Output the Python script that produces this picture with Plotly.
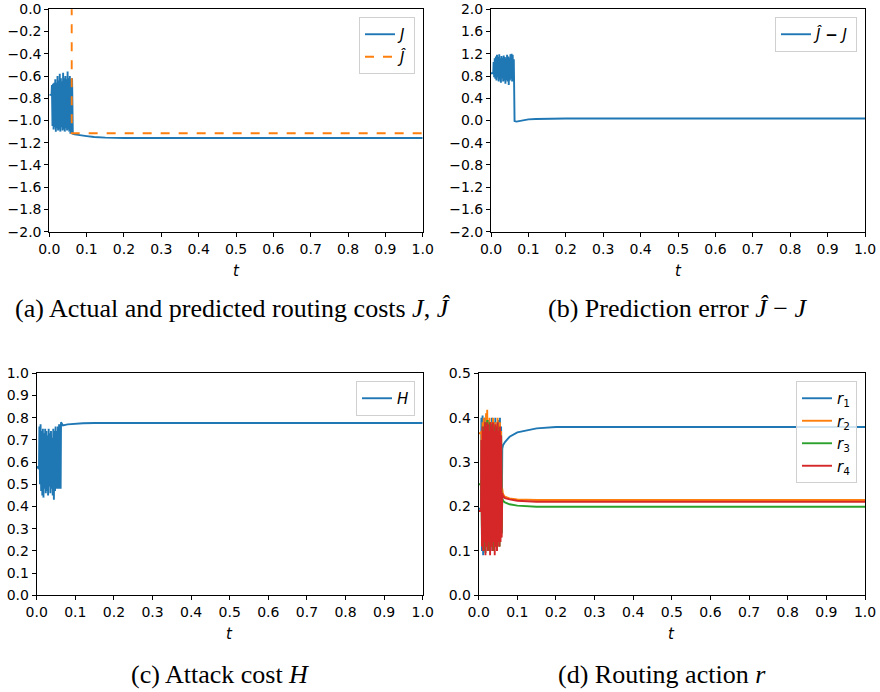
import plotly.graph_objects as go

# ---------------- data ----------------
osc_t = [0.007, 0.0085, 0.010, 0.0115, 0.013, 0.0145, 0.016, 0.0175, 0.019, 0.0205,
         0.022, 0.0235, 0.025, 0.0265, 0.028, 0.0295, 0.031, 0.0325, 0.034, 0.0355,
         0.037, 0.0385, 0.040, 0.0415, 0.043, 0.0445, 0.046, 0.0475, 0.049, 0.0505,
         0.052, 0.0535, 0.055, 0.0565, 0.058, 0.0595, 0.061]
pre_t = [0.0, 0.006]
post_t = [0.062, 0.063, 0.068, 0.08, 0.1, 0.12, 0.15, 0.2, 0.5, 1.0]

# (a) actual cost J
J_pre = [-0.77, -0.77]
J_osc = [-0.68, -1.05, -0.67, -1.08, -0.66, -1.06, -0.63, -1.10, -0.66, -1.07,
         -0.60, -1.09, -0.64, -1.08, -0.58, -1.10, -0.62, -1.06, -0.65, -1.09,
         -0.57, -1.08, -0.62, -1.10, -0.60, -1.07, -0.63, -1.09, -0.56, -1.08,
         -0.62, -1.10, -0.60, -1.12, -0.63, -1.12, -0.62]
J_post = [-1.12, -1.12, -1.125, -1.132, -1.14, -1.148, -1.154, -1.157, -1.157, -1.157]

# (a) predicted cost J-hat
Jhat_t = [0.0, 0.0600, 0.0601, 1.0]
Jhat = [0.15, 0.15, -1.115, -1.115]

# (b) prediction error J-hat - J
E_pre = [0.85, 0.85]
E_osc = [1.05, 0.78, 1.12, 0.75, 1.15, 0.72, 1.18, 0.78, 1.14, 0.70,
         1.19, 0.74, 1.12, 0.68, 1.16, 0.76, 1.13, 0.70, 1.17, 0.72,
         1.14, 0.66, 1.12, 0.73, 1.18, 0.70, 1.15, 0.64, 1.13, 0.72,
         1.19, 0.75, 1.20, 0.70, 1.18, 0.73, 1.10]
E_post = [0.75, -0.01, -0.02, 0.0, 0.02, 0.027, 0.032, 0.035, 0.035, 0.035]

# (c) attack cost H
H_pre = [0.58, 0.57]
H_osc = [0.76, 0.50, 0.77, 0.47, 0.74, 0.45, 0.75, 0.44, 0.73, 0.48,
         0.75, 0.46, 0.74, 0.47, 0.72, 0.45, 0.75, 0.49, 0.73, 0.46,
         0.74, 0.48, 0.71, 0.45, 0.75, 0.43, 0.74, 0.47, 0.76, 0.48,
         0.74, 0.48, 0.76, 0.48, 0.77, 0.48, 0.77]
H_post = [0.48, 0.78, 0.765, 0.77, 0.773, 0.775, 0.776, 0.776, 0.776, 0.776]

# (d) routing action r
r1_pre = [0.195, 0.195]
r1_osc = [0.40, 0.10, 0.405, 0.09, 0.39, 0.12, 0.40, 0.11, 0.38, 0.13,
          0.39, 0.10, 0.395, 0.12, 0.38, 0.11, 0.39, 0.12, 0.40, 0.10,
          0.385, 0.13, 0.39, 0.11, 0.40, 0.12, 0.38, 0.10, 0.39, 0.12,
          0.395, 0.11, 0.40, 0.13, 0.38, 0.14, 0.33]
r1_post = [0.333, 0.338, 0.345, 0.357, 0.367, 0.371, 0.376, 0.379, 0.379, 0.379]

r2_pre = [0.365, 0.365]
r2_osc = [0.37, 0.13, 0.39, 0.11, 0.40, 0.12, 0.38, 0.14, 0.41, 0.11,
          0.418, 0.12, 0.39, 0.13, 0.40, 0.10, 0.38, 0.12, 0.39, 0.11,
          0.40, 0.13, 0.38, 0.12, 0.39, 0.11, 0.385, 0.13, 0.40, 0.12,
          0.38, 0.11, 0.39, 0.14, 0.37, 0.15, 0.24]
r2_post = [0.232, 0.228, 0.222, 0.218, 0.216, 0.215, 0.2146, 0.2146, 0.2146, 0.2146]

r3_pre = [0.25, 0.25]
r3_osc = [0.26, 0.14, 0.35, 0.12, 0.38, 0.10, 0.37, 0.095, 0.39, 0.11,
          0.395, 0.13, 0.38, 0.10, 0.39, 0.12, 0.37, 0.11, 0.385, 0.13,
          0.36, 0.10, 0.38, 0.12, 0.37, 0.11, 0.36, 0.13, 0.38, 0.12,
          0.37, 0.11, 0.35, 0.13, 0.36, 0.14, 0.22]
r3_post = [0.216, 0.213, 0.209, 0.205, 0.202, 0.2005, 0.1996, 0.1996, 0.1996, 0.1996]

r4_pre = [0.19, 0.19]
r4_osc = [0.35, 0.11, 0.38, 0.10, 0.37, 0.12, 0.39, 0.09, 0.38, 0.11,
          0.39, 0.10, 0.385, 0.12, 0.37, 0.09, 0.39, 0.11, 0.38, 0.10,
          0.39, 0.12, 0.37, 0.09, 0.385, 0.11, 0.38, 0.10, 0.39, 0.12,
          0.37, 0.11, 0.38, 0.12, 0.36, 0.13, 0.23]
r4_post = [0.226, 0.223, 0.219, 0.216, 0.213, 0.2115, 0.2108, 0.2108, 0.2108, 0.2108]

x_ticks = [0.0, 0.1, 0.2, 0.3, 0.4, 0.5, 0.6, 0.7, 0.8, 0.9, 1.0]
y_ticks_a = [-2.0, -1.8, -1.6, -1.4, -1.2, -1.0, -0.8, -0.6, -0.4, -0.2, 0.0]
y_ticks_b = [-2.0, -1.6, -1.2, -0.8, -0.4, 0.0, 0.4, 0.8, 1.2, 1.6, 2.0]
y_ticks_c = [0.0, 0.1, 0.2, 0.3, 0.4, 0.5, 0.6, 0.7, 0.8, 0.9, 1.0]
y_ticks_d = [0.0, 0.1, 0.2, 0.3, 0.4, 0.5]
captions = ["(a) Actual and predicted routing costs <i>J</i>, <i>Ĵ</i>",
            "(b) Prediction error <i>Ĵ</i> − <i>J</i>",
            "(c) Attack cost <i>H</i>",
            "(d) Routing action <i>r</i>"]

# ---------------- figure ----------------
W, H_px = 880, 692
BLUE, ORANGE, GREEN, RED = "#1f77b4", "#ff7f0e", "#2ca02c", "#d62728"
LW = 1.9

tt = pre_t + osc_t + post_t

fig = go.Figure()

def line(x, y, color, name, xa, ya, legend, dash="solid"):
    fig.add_trace(go.Scatter(x=x, y=y, mode="lines", name=name,
                             line=dict(color=color, width=LW, dash=dash),
                             xaxis=xa, yaxis=ya, legend=legend))

line(tt, J_pre + J_osc + J_post, BLUE, "<i>J</i>", "x", "y", "legend")
line(Jhat_t, Jhat, ORANGE, "<i>Ĵ</i>", "x", "y", "legend", dash="dash")
line(tt, E_pre + E_osc + E_post, BLUE, "<i>Ĵ</i> <b>−</b> <i>J</i>", "x2", "y2", "legend2")
line(tt, H_pre + H_osc + H_post, BLUE, "<i>H</i>", "x3", "y3", "legend3")
line(tt, r1_pre + r1_osc + r1_post, BLUE, "<i>r</i><sub>1</sub>", "x4", "y4", "legend4")
line(tt, r2_pre + r2_osc + r2_post, ORANGE, "<i>r</i><sub>2</sub>", "x4", "y4", "legend4")
line(tt, r3_pre + r3_osc + r3_post, GREEN, "<i>r</i><sub>3</sub>", "x4", "y4", "legend4")
line(tt, r4_pre + r4_osc + r4_post, RED, "<i>r</i><sub>4</sub>", "x4", "y4", "legend4")

tickfont = dict(family="DejaVu Sans", size=14, color="black")

def fmt(v):
    s = "%.1f" % abs(v)
    return ("\u2212" + s) if v < 0 else s

def px_x(p):
    return p / W

def px_y(p):
    return 1 - p / H_px

def axis_common():
    return dict(showline=True, mirror=True, linecolor="black", linewidth=1,
                ticks="outside", ticklen=4, tickwidth=1, tickcolor="black",
                showgrid=False, zeroline=False, tickfont=tickfont, automargin=False)

panels = {
    # name: (left px, right px, top px, bottom px)
    "1": (49.3, 422.7, 9.3, 231.7),
    "2": (491.0, 865.0, 9.3, 231.7),
    "3": (36.7, 422.7, 373.3, 595.3),
    "4": (478.7, 865.0, 373.3, 595.3),
}
y_specs = {
    "1": ([-2.0, 0.0], y_ticks_a),
    "2": ([-2.0, 2.0], y_ticks_b),
    "3": ([0.0, 1.0], y_ticks_c),
    "4": ([0.0, 0.5], y_ticks_d),
}

layout = dict(width=W, height=H_px, autosize=False,
              margin=dict(l=0, r=0, t=0, b=0, pad=0, autoexpand=False),
              paper_bgcolor="white", plot_bgcolor="white", showlegend=True)
annotations = []
for k, (l, r, t, b) in panels.items():
    sfx = "" if k == "1" else k
    xa = axis_common()
    xa.update(domain=[px_x(l), px_x(r)], range=[0, 1], tickvals=x_ticks,
              ticktext=[fmt(v) for v in x_ticks], anchor="y" + sfx)
    ya = axis_common()
    rng, tv = y_specs[k]
    ya.update(domain=[px_y(b), px_y(t)], range=rng, tickvals=tv,
              ticktext=[fmt(v) for v in tv], anchor="x" + sfx)
    layout["xaxis" + sfx] = xa
    layout["yaxis" + sfx] = ya
    # x axis title "t"
    annotations.append(dict(text="<i>t</i>", xref="paper", yref="paper",
                            x=px_x((l + r) / 2), y=px_y(b + 39),
                            showarrow=False, xanchor="center", yanchor="middle",
                            font=dict(family="DejaVu Sans", size=15, color="black")))

cap_pos = [(233, 308), (677, 308), (220, 674), (662, 674)]
for txt, (cx, cy) in zip(captions, cap_pos):
    annotations.append(dict(text=txt, xref="paper", yref="paper",
                            x=px_x(cx), y=px_y(cy), showarrow=False,
                            xanchor="center", yanchor="middle",
                            font=dict(family="Liberation Serif", size=26, color="black")))
layout["annotations"] = annotations

leg_common = dict(bgcolor="rgba(255,255,255,0.8)", bordercolor="#d0d0d0", borderwidth=1,
                  font=dict(family="DejaVu Sans", size=15, color="black"),
                  xanchor="right", yanchor="top", xref="paper", yref="paper")
layout["legend"] = dict(leg_common, x=px_x(415), y=px_y(17))
layout["legend2"] = dict(leg_common, x=px_x(857), y=px_y(17))
layout["legend3"] = dict(leg_common, x=px_x(415), y=px_y(381))
layout["legend4"] = dict(leg_common, x=px_x(857), y=px_y(381))

fig.update_layout(**layout)
fig.write_html("out.html", config={"displayModeBar": False},
               post_script="document.body.style.margin='0px';document.body.style.padding='0px';")
